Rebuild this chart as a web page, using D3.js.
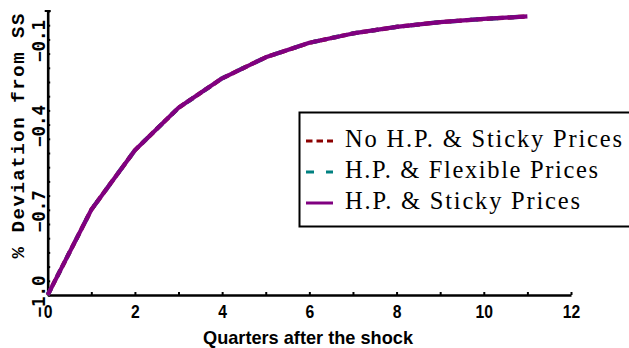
<!DOCTYPE html>
<html>
<head>
<meta charset="utf-8">
<script src="https://cdn.jsdelivr.net/npm/d3@7"></script>
<style>
  html, body { margin: 0; padding: 0; background: #fff; }
  svg { display: block; }
</style>
</head>
<body>
<svg id="chart" width="629" height="348"></svg>
<script>
// Impulse responses: % deviation from steady state, by quarter after the shock
const quarters = [0, 1, 2, 3, 4, 5, 6, 7, 8, 9, 10, 11];
const noHpSticky = [-1.0, -0.700, -0.490, -0.341, -0.237, -0.163, -0.112, -0.079, -0.056, -0.039, -0.028, -0.019];
const hpFlexible = [-1.0, -0.700, -0.490, -0.341, -0.237, -0.163, -0.112, -0.079, -0.056, -0.039, -0.028, -0.019];
const hpSticky   = [-1.0, -0.700, -0.490, -0.341, -0.237, -0.163, -0.112, -0.079, -0.056, -0.039, -0.028, -0.019];

const seriesNames = ["No H.P. & Sticky Prices", "H.P. & Flexible Prices", "H.P. & Sticky Prices"];
const xTickValues = [0, 2, 4, 6, 8, 10, 12];
const yTickValues = [-1.0, -0.7, -0.4, -0.1];
const yTickLabels = ["\u22121.0", "\u22120.7", "\u22120.4", "\u22120.1"];
const xTitle = "Quarters after the shock";
const yTitle = "% Deviation from SS";

const svg = d3.select("#chart");

const x = d3.scaleLinear().domain([0, 12]).range([47.7, 571]);
const y = d3.scaleLinear().domain([-1, 0]).range([295, 11]);

// x axis: inward ticks at every quarter, labels on even quarters
const xAxis = d3.axisBottom(x)
  .tickValues(d3.range(0, 13, 1))
  .tickSizeInner(-3)
  .tickSizeOuter(0)
  .tickPadding(10)
  .tickFormat(d => xTickValues.includes(d) ? d3.format("d")(d) : "");

const gx = svg.append("g").attr("transform", "translate(0,295)").call(xAxis);
gx.select(".domain").attr("stroke", "#000").attr("stroke-width", 2.6);
gx.selectAll(".tick line").attr("stroke", "#000").attr("stroke-width", 2);
gx.selectAll(".tick text")
  .attr("fill", "#000")
  .attr("transform", "scale(0.85,1)")
  .attr("x", function(d) { return 0; })
  .style("font-family", "'Liberation Sans', Arial, sans-serif")
  .style("font-weight", "bold")
  .style("font-size", "18.5px");

// y axis: inward ticks every 0.05, rotated labels drawn below
const yAxis = d3.axisLeft(y)
  .tickValues(d3.range(0, 21).map(i => -1 + i * 0.05))
  .tickSizeInner(-2.5)
  .tickSizeOuter(0)
  .tickFormat("");

const gy = svg.append("g").attr("transform", "translate(47.7,0)").call(yAxis);
gy.select(".domain").attr("stroke", "#000").attr("stroke-width", 2.6);
gy.selectAll(".tick line").attr("stroke", "#000").attr("stroke-width", 2);
// small cap at the top of the y axis
gy.append("line")
  .attr("x1", -3).attr("x2", 3)
  .attr("y1", y(0)).attr("y2", y(0))
  .attr("stroke", "#000").attr("stroke-width", 2);

svg.append("g")
  .selectAll("text")
  .data(yTickValues)
  .join("text")
  .attr("transform", d => `translate(39,${y(d) + 1.5}) rotate(-90)`)
  .attr("text-anchor", "middle")
  .attr("dy", "0.36em")
  .attr("textLength", 42)
  .attr("lengthAdjust", "spacingAndGlyphs")
  .style("font-family", "'DejaVu Sans Mono', monospace")
  .style("font-weight", "bold")
  .style("font-size", "17px")
  .text((d, i) => yTickLabels[i]);

// axis titles
svg.append("text")
  .attr("x", 308).attr("y", 344)
  .attr("text-anchor", "middle")
  .attr("textLength", 210)
  .attr("lengthAdjust", "spacingAndGlyphs")
  .style("font-family", "'Liberation Sans', Arial, sans-serif")
  .style("font-weight", "bold")
  .style("font-size", "19px")
  .text(xTitle);

svg.append("text")
  .attr("transform", "translate(17.5,136) rotate(-90)")
  .attr("text-anchor", "middle")
  .attr("dy", "0.36em")
  .attr("textLength", 245)
  .attr("lengthAdjust", "spacing")
  .style("font-family", "'Liberation Mono', 'Courier New', monospace")
  .style("font-weight", "bold")
  .style("font-size", "19px")
  .text(yTitle);

// response lines
const styles = [
  { values: noHpSticky, color: "#8b0000", dash: "6.5,4" },
  { values: hpFlexible, color: "#008080", dash: "8,12" },
  { values: hpSticky,   color: "#800080", dash: null }
];

const line = d3.line()
  .x((d, i) => x(quarters[i]))
  .y(d => y(d));

styles.forEach(s => {
  svg.append("path")
    .datum(s.values)
    .attr("d", line)
    .attr("fill", "none")
    .attr("stroke", s.color)
    .attr("stroke-width", 4.2)
    .attr("stroke-linejoin", "round")
    .attr("stroke-dasharray", s.dash);
});

// legend
const legend = svg.append("g");
legend.append("rect")
  .attr("x", 299.5).attr("y", 112.5)
  .attr("width", 340).attr("height", 114)
  .attr("fill", "#fff")
  .attr("stroke", "#000")
  .attr("stroke-width", 2);

const legendBaselines = [146.5, 177.5, 208.5];
const legendWidths = [277, 253, 235];
styles.forEach((s, i) => {
  legend.append("line")
    .attr("x1", 306).attr("x2", 333)
    .attr("y1", legendBaselines[i] - 5.5).attr("y2", legendBaselines[i] - 5.5)
    .attr("stroke", s.color)
    .attr("stroke-width", 3)
    .attr("stroke-dasharray", s.dash);
  legend.append("text")
    .attr("x", 345).attr("y", legendBaselines[i])
    .attr("textLength", legendWidths[i])
    .attr("lengthAdjust", "spacing")
    .style("font-family", "'Liberation Serif', 'Times New Roman', serif")
    .style("font-size", "24.5px")
    .attr("fill", "#000")
    .text(seriesNames[i]);
});
</script>
</body>
</html>
